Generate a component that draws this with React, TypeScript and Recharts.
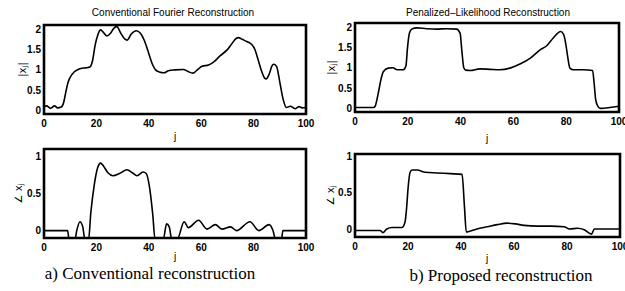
import React from "react";
import { LineChart, Line, XAxis, YAxis, ReferenceArea } from "recharts";

// ---- Data ----
const jTicks = [0, 20, 40, 60, 80, 100];
const magTicks = [0, 0.5, 1, 1.5, 2];
const phaseTicks = [0, 0.5, 1];

const convMagJ = [0, 1, 2.5, 4, 5.2, 6.6, 7.5, 8.3, 9.2, 10, 11.5, 13, 14.5, 16, 17.5, 18.6, 19.5, 20.5, 21.6, 22.4, 24, 25.4, 26.8, 27.8, 29.3, 30.8, 31.7, 33.3, 35.2, 36.8, 38.3, 39.5, 40.5, 41.5, 42.6, 44, 45.8, 47.5, 50, 53.2, 55, 56.8, 58.5, 60.3, 62.8, 64.7, 67.3, 69.9, 71.8, 73.3, 74.3, 75.6, 77.6, 79.3, 80.5, 81.5, 82.9, 84.2, 84.8, 85.9, 87.2, 87.8, 88.8, 90, 91.2, 92.5, 94, 95.8, 97.4, 98.5, 100];
const convMag = [0.1, 0.12, 0.06, 0.12, 0.07, 0.09, 0.2, 0.45, 0.7, 0.82, 0.95, 1.01, 1.04, 1.05, 1.07, 1.25, 1.6, 1.85, 1.98, 1.94, 1.83, 1.9, 2.03, 2.06, 1.9, 1.76, 1.73, 1.88, 1.96, 1.9, 1.72, 1.5, 1.3, 1.12, 1.0, 0.95, 0.93, 0.98, 1.0, 1.01, 0.96, 0.92, 1.0, 1.09, 1.12, 1.19, 1.35, 1.49, 1.65, 1.77, 1.79, 1.75, 1.69, 1.62, 1.5, 1.3, 1.0, 0.8, 0.78, 0.89, 1.12, 1.14, 1.08, 0.7, 0.3, 0.08, 0.11, 0.05, 0.1, 0.07, 0.08];

const convPhaseJ = [0, 9, 9.6, 11.8, 12.5, 13.7, 14.8, 15.6, 17, 17.9, 19.2, 20.5, 21.6, 22.7, 24.4, 26.3, 28.8, 31.7, 33.7, 35.5, 37.8, 39, 40.3, 41.5, 42.4, 45.5, 46.8, 47.8, 48.8, 50.8, 53.5, 55.1, 59, 62.2, 65.4, 67.9, 71.2, 73.5, 78.6, 82, 85.9, 87.4, 88.4, 90.6, 91.2, 100];
const convPhase = [0, 0, -0.12, -0.12, 0, 0.12, 0.05, -0.12, -0.12, 0.25, 0.62, 0.85, 0.91, 0.87, 0.78, 0.74, 0.77, 0.82, 0.78, 0.74, 0.79, 0.77, 0.58, 0.22, -0.12, -0.12, 0.09, 0.05, -0.12, -0.12, 0.12, 0.04, 0.14, 0.02, 0.08, 0.02, 0.05, 0.0, 0.12, 0.0, 0.08, 0.0, -0.12, -0.12, 0, 0];

const propMagJ = [0, 7, 7.6, 8.8, 9.8, 10.7, 12.6, 14.3, 16, 18.3, 19.3, 19.9, 20.6, 21.5, 23.4, 27.1, 30.9, 34.7, 38.5, 39.8, 40.5, 41.2, 42, 43.6, 47.3, 51.1, 54.9, 58.7, 62.5, 66.3, 70.1, 72.6, 75.1, 77.9, 79, 79.8, 80.5, 81.4, 82.7, 86.5, 90, 90.6, 91.2, 92, 93, 96.6, 100];
const propMag = [0.02, 0.02, 0.05, 0.37, 0.7, 0.9, 0.99, 1.0, 0.95, 0.95, 1.05, 1.5, 1.85, 1.95, 1.98, 1.96, 1.95, 1.96, 1.95, 1.85, 1.4, 1.0, 0.94, 0.93, 0.97, 0.96, 0.95, 0.99, 1.09, 1.23, 1.44, 1.54, 1.73, 1.89, 1.82, 1.6, 1.3, 0.99, 0.95, 0.95, 0.93, 0.6, 0.2, 0.05, 0.0, 0.02, 0.05];

const propPhaseJ = [0, 9.5, 10.5, 12, 14, 17.7, 18.9, 19.5, 20, 20.8, 21.5, 23.4, 26.5, 30.9, 36, 40.4, 41.3, 42, 43.3, 46, 49.9, 53.7, 57.5, 60.6, 63.8, 68.8, 73.9, 78.9, 81, 84, 86.5, 89.3, 90.3, 100];
const propPhase = [-0.02, -0.02, -0.05, 0, 0.02, 0.02, 0.1, 0.3, 0.55, 0.78, 0.81, 0.81, 0.78, 0.77, 0.76, 0.75, 0.31, -0.04, -0.03, 0.0, 0.03, 0.06, 0.08, 0.07, 0.05, 0.04, 0.04, 0.03, 0.0, 0.01, -0.01, -0.07, 0, 0];

const zip = (js: number[], vs: number[]) => js.map((j, i) => ({ j, v: vs[i] }));

const AXW = 30;
const AXH = 30;
const W = 625;
const H = 291;

type Frame = { l: number; r: number; t: number; b: number };

const tickStyle = { fontSize: 10, fontFamily: "Liberation Sans, Arial, sans-serif", fontWeight: "bold" as const, fill: "#000" };

function Panel(props: {
  data: { j: number; v: number }[];
  frame: Frame;
  domain: [number, number];
  yTicks: number[];
  yLabel: "mag" | "phase";
  yLabelX: number;
}) {
  const { data, frame, domain, yTicks, yLabel, yLabelX } = props;
  const margin = { top: frame.t, left: frame.l - AXW, right: W - frame.r, bottom: H - frame.b - AXH };
  const cx = yLabelX;
  const cy = (frame.t + frame.b) / 2;
  const yLab = () => (
    <text
      x={cx}
      y={cy}
      transform={`rotate(-90 ${cx} ${cy})`}
      textAnchor="middle"
      dominantBaseline="central"
      fontSize={10}
      fontFamily="DejaVu Sans, sans-serif"
      style={{ fill: "#000" }}
    >
      {yLabel === "mag" ? "|x" : "\u2220 x"}
      <tspan dy={3} fontSize={7}>j</tspan>
      {yLabel === "mag" ? <tspan dy={-3}>|</tspan> : null}
    </text>
  );
  return (
    <div style={{ position: "absolute", left: 0, top: 0 }}>
      <LineChart width={W} height={H} data={data} margin={margin}>
        <XAxis
          dataKey="j"
          type="number"
          domain={[0, 100]}
          ticks={jTicks}
          interval={0}
          allowDataOverflow
          axisLine={false}
          tickLine={false}
          tickSize={0}
          tickMargin={6}
          height={AXH}
          tick={tickStyle}
        />
        <YAxis
          type="number"
          domain={domain}
          ticks={yTicks}
          interval={0}
          allowDataOverflow
          axisLine={false}
          tickLine={false}
          tickSize={0}
          tickMargin={3}
          width={AXW}
          tick={tickStyle}
          label={{ content: yLab }}
        />
        <ReferenceArea x1={0} x2={100} y1={domain[0]} y2={domain[1]} fill="none" fillOpacity={0} stroke="#000" strokeWidth={2.6} />
        <Line type="monotone" dataKey="v" stroke="#000" strokeWidth={1.6} dot={false} isAnimationActive={false} />
      </LineChart>
    </div>
  );
}

const centered: React.CSSProperties = {
  position: "absolute",
  color: "#000",
  whiteSpace: "nowrap",
  transform: "translate(-50%, -50%)",
  lineHeight: 1,
};

const titleStyle: React.CSSProperties = { ...centered, fontFamily: "Liberation Sans, Arial, sans-serif", fontSize: 10 };
const jStyle: React.CSSProperties = { ...centered, fontFamily: "Liberation Sans, Arial, sans-serif", fontSize: 10 };
const captionStyle: React.CSSProperties = { ...centered, fontFamily: "Liberation Serif, Times New Roman, serif", fontSize: 17 };

export default function App() {
  return (
    <div style={{ position: "absolute", left: 0, top: 0, width: W, height: H, background: "#fff", overflow: "hidden" }}>
      <Panel data={zip(convMagJ, convMag)} frame={{ l: 44, r: 306, t: 25, b: 114 }} domain={[-0.08, 2.1]} yTicks={magTicks} yLabel="mag" yLabelX={22} />
      <Panel data={zip(propMagJ, propMag)} frame={{ l: 355, r: 619, t: 23, b: 112 }} domain={[-0.09, 2.1]} yTicks={magTicks} yLabel="mag" yLabelX={331} />
      <Panel data={zip(convPhaseJ, convPhase)} frame={{ l: 44, r: 306, t: 149, b: 238 }} domain={[-0.1, 1.1]} yTicks={phaseTicks} yLabel="phase" yLabelX={18} />
      <Panel data={zip(propPhaseJ, propPhase)} frame={{ l: 355, r: 620, t: 154, b: 237 }} domain={[-0.11, 1.03]} yTicks={phaseTicks} yLabel="phase" yLabelX={330} />
      <div style={{ ...titleStyle, left: 173, top: 13 }}>Conventional Fourier Reconstruction</div>
      <div style={{ ...titleStyle, left: 488, top: 13 }}>Penalized–Likelihood Reconstruction</div>
      <div style={{ ...jStyle, left: 175, top: 137 }}>j</div>
      <div style={{ ...jStyle, left: 487, top: 139 }}>j</div>
      <div style={{ ...jStyle, left: 175, top: 257 }}>j</div>
      <div style={{ ...jStyle, left: 487, top: 259 }}>j</div>
      <div style={{ ...captionStyle, left: 150, top: 273 }}>a) Conventional reconstruction</div>
      <div style={{ ...captionStyle, left: 501, top: 275 }}>b) Proposed reconstruction</div>
    </div>
  );
}
